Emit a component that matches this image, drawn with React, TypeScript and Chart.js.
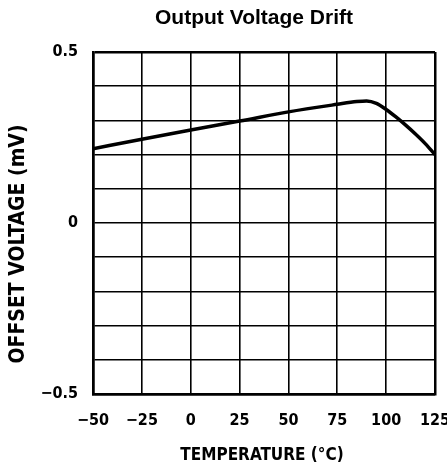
import React, { useEffect, useRef } from "react";
import { Chart, registerables } from "chart.js";

Chart.register(...registerables);

const temperatures = [-50, -25, 0, 25, 50, 75, 85, 90, 95, 100, 105, 110, 115, 120, 125];
const offsetVoltage = [0.217, 0.245, 0.272, 0.298, 0.325, 0.347, 0.355, 0.357, 0.35, 0.332, 0.31, 0.286, 0.26, 0.232, 0.2];
const xTicks = [-50, -25, 0, 25, 50, 75, 100, 125];
const yLabeled = [-0.5, 0, 0.5];

const chartTitle = "Output Voltage Drift";
const xTitle = "TEMPERATURE (°C)";
const yTitle = "OFFSET VOLTAGE (mV)";

const condensed = "'Liberation Sans Narrow', 'DejaVu Sans Condensed', 'Roboto Condensed', sans-serif";

export default function App() {
  const ref = useRef<HTMLCanvasElement | null>(null);

  useEffect(() => {
    document.body.style.margin = "0";
    const canvas = ref.current;
    if (!canvas) return;

    const titlesPlugin = {
      id: "titlesPlugin",
      afterDraw(chart: any) {
        const ctx = chart.ctx;
        ctx.save();
        ctx.fillStyle = "#000";
        ctx.textAlign = "center";
        ctx.textBaseline = "middle";
        ctx.font = "bold 21px 'Liberation Sans', Arial, sans-serif";
        ctx.fillText(chartTitle, 254, 18);
        ctx.font = "bold 17px " + condensed;
        ctx.fillText(xTitle, 262, 456);
        ctx.font = "bold 21px " + condensed;
        ctx.translate(19, 244);
        ctx.rotate(-Math.PI / 2);
        ctx.fillText(yTitle, 0, 0);
        ctx.restore();
      },
    };

    const chart = new Chart(canvas, {
      type: "line",
      data: {
        datasets: [
          {
            data: temperatures.map((t, i) => ({ x: t, y: offsetVoltage[i] })),
            borderColor: "#000",
            borderWidth: 3.5,
            pointRadius: 0,
            cubicInterpolationMode: "monotone",
            fill: false,
          },
        ],
      },
      options: {
        responsive: false,
        animation: false,
        layout: { padding: { top: 52, right: 12, left: 0, bottom: 0 } },
        plugins: { legend: { display: false }, title: { display: false }, tooltip: { enabled: false } },
        scales: {
          x: {
            type: "linear",
            min: -50,
            max: 125,
            afterFit(scale: any) {
              scale.height = 76;
              scale.paddingLeft = 0;
              scale.paddingRight = 0;
            },
            afterBuildTicks(scale: any) {
              scale.ticks = xTicks.map((v) => ({ value: v }));
            },
            ticks: {
              padding: 17,
              color: "#000",
              font: { family: condensed, size: 16, weight: "bold" },
              maxRotation: 0,
              autoSkip: false,
              callback: (v: any) => (Number(v) < 0 ? "\u2212" + Math.abs(Number(v)) : String(v)),
            },
            grid: {
              color: "#000",
              lineWidth: (c: any) => (c.index === 0 || c.index === xTicks.length - 1 ? 2.5 : 1.6),
              drawTicks: false,
            },
            border: { color: "#000", width: 2.5 },
          },
          y: {
            type: "linear",
            min: -0.5,
            max: 0.5,
            afterFit(scale: any) {
              scale.width = 93;
              scale.paddingTop = 0;
              scale.paddingBottom = 0;
            },
            ticks: {
              stepSize: 0.1,
              padding: 15,
              color: "#000",
              autoSkip: false,
              font: { family: condensed, size: 16, weight: "bold" },
              callback: (v: any) => {
                const n = Math.round(Number(v) * 10) / 10;
                if (!yLabeled.includes(n)) return "";
                if (n === 0) return "0";
                return n < 0 ? "\u2212" + Math.abs(n).toFixed(1) : n.toFixed(1);
              },
            },
            grid: {
              color: "#000",
              lineWidth: (c: any) => (c.index === 0 || c.index === 10 ? 2.5 : 1.6),
              drawTicks: false,
            },
            border: { color: "#000", width: 2.5 },
          },
        },
      },
      plugins: [titlesPlugin],
    } as any);

    return () => chart.destroy();
  }, []);

  return <canvas ref={ref} width={447} height={470} style={{ display: "block" }} />;
}
